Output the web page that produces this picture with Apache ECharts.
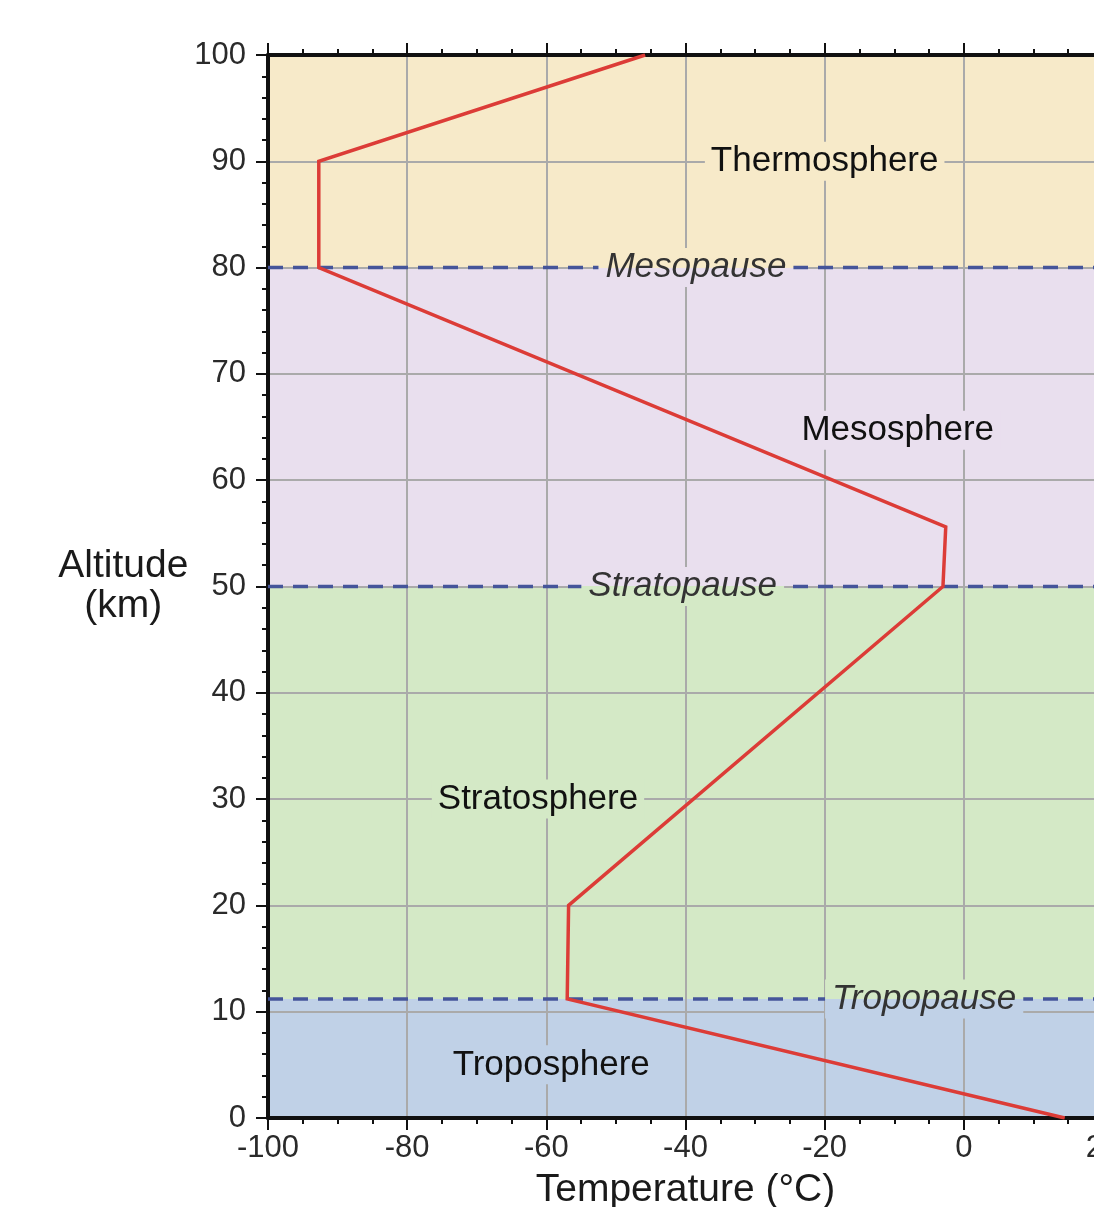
<!DOCTYPE html>
<html>
<head>
<meta charset="utf-8">
<script src="https://cdn.jsdelivr.net/npm/echarts@6/dist/echarts.min.js"></script>
<style>
html,body{margin:0;padding:0;background:#fff;overflow:hidden;}
#chart{width:1094px;height:1207px;}
</style>
</head>
<body>
<div id="chart"></div>
<script>
// ---- data ----
const tempC = [14.5, -57, -56.8, -3, -2.6, -92.7, -92.7, -45.8];
const altKm = [0, 11.2, 20, 50, 55.6, 80, 90, 100];

const layerNames = ['Troposphere', 'Stratosphere', 'Mesosphere', 'Thermosphere'];
const layerBottom = [0, 11.2, 50, 80];
const layerTop = [11.2, 50, 80, 100];
const layerLabelX = [-59.3, -61.2, -9.5, -20];
const layerLabelY = [5, 30, 64.7, 90];

const pauseNames = ['Tropopause', 'Stratopause', 'Mesopause'];
const pauseAlt = [11.2, 50, 80];
const pauseLabelX = [-5.7, -40.4, -38.5];

const xMin = -100, xMax = 20, xStep = 20;
const yMin = 0, yMax = 100, yStep = 10;

// ---- styles ----
const layerColors = ['#c0d1e7', '#d4e9c6', '#e9dfee', '#f7eac9'];
const FONT = 'Liberation Sans, Arial, Helvetica, sans-serif';

const chart = echarts.init(document.getElementById('chart'));

const bandData = layerBottom.map((b, i) => [b, layerTop[i]]);

const layerLabelData = layerNames.map((n, i) => ({
  name: n,
  value: [layerLabelX[i], layerLabelY[i]],
  label: { backgroundColor: layerColors[i] }
}));

const pauseLabelData = pauseNames.map((n, i) => ({
  name: n,
  value: [pauseLabelX[i], pauseAlt[i]],
  label: {
    backgroundColor: new echarts.graphic.LinearGradient(0, 0, 0, 1, [
      { offset: 0, color: layerColors[i + 1] },
      { offset: 0.5, color: layerColors[i + 1] },
      { offset: 0.5, color: layerColors[i] },
      { offset: 1, color: layerColors[i] }
    ])
  }
}));

const pauseSeries = pauseAlt.map((a, i) => ({
  type: 'line',
  name: pauseNames[i] + ' line',
  data: [[xMin, a], [xMax, a]],
  symbol: 'none',
  silent: true,
  z: 3,
  lineStyle: { color: '#45559a', width: 3.5, type: [15, 10] }
}));

const commonX = {
  type: 'value', min: xMin, max: xMax, interval: xStep,
  axisLine: { show: true, onZero: false, lineStyle: { color: '#111', width: 4 } },
  axisTick: { show: true, length: 12, lineStyle: { color: '#111', width: 2 } },
  minorTick: { show: true, splitNumber: 4, length: 6, lineStyle: { color: '#111', width: 2 } }
};

chart.setOption({
  animation: false,
  backgroundColor: '#ffffff',
  grid: { left: 268, top: 55, width: 835, height: 1063, containLabel: false, outerBoundsMode: 'none' },
  xAxis: [
    Object.assign({}, commonX, {
      position: 'bottom',
      name: 'Temperature (°C)',
      nameLocation: 'middle',
      nameGap: 53,
      nameTextStyle: { fontFamily: FONT, fontSize: 39, color: '#1a1a1a' },
      axisLabel: { fontFamily: FONT, fontSize: 31, color: '#2a2a2a', margin: 15 },
      splitLine: { show: true, lineStyle: { color: '#aaaaaa', width: 2 } }
    }),
    Object.assign({}, commonX, {
      position: 'top',
      axisLabel: { show: false },
      splitLine: { show: false }
    })
  ],
  yAxis: {
    type: 'value', min: yMin, max: yMax, interval: yStep,
    name: 'Altitude\n(km)',
    nameLocation: 'middle',
    nameRotate: 0,
    nameGap: 140,
    nameTextStyle: { fontFamily: FONT, fontSize: 39, color: '#1a1a1a', align: 'center', verticalAlign: 'middle', lineHeight: 40, padding: [0, 0, 12, 0] },
    axisLine: { show: true, onZero: false, lineStyle: { color: '#111', width: 4 } },
    axisTick: { show: true, length: 12, lineStyle: { color: '#111', width: 2 } },
    minorTick: { show: true, splitNumber: 5, length: 6, lineStyle: { color: '#111', width: 2 } },
    axisLabel: { fontFamily: FONT, fontSize: 31, color: '#2a2a2a', margin: 22 },
    splitLine: { show: true, lineStyle: { color: '#aaaaaa', width: 2 } }
  },
  series: [
    {
      type: 'custom',
      name: 'layers',
      z: -1,
      silent: true,
      data: bandData,
      renderItem: function (params, api) {
        const p0 = api.coord([xMin, api.value(1)]);
        const p1 = api.coord([xMax, api.value(0)]);
        return {
          type: 'rect',
          shape: { x: p0[0], y: p0[1], width: p1[0] - p0[0], height: p1[1] - p0[1] },
          style: { fill: layerColors[params.dataIndex] }
        };
      }
    },
    ...pauseSeries,
    {
      type: 'line',
      name: 'Temperature',
      data: tempC.map((t, i) => [t, altKm[i]]),
      symbol: 'none',
      z: 4,
      lineStyle: { color: '#dc3c37', width: 3.5, join: 'miter' }
    },
    {
      type: 'scatter',
      name: 'layer labels',
      symbolSize: 0,
      z: 6,
      silent: true,
      itemStyle: { opacity: 1 },
      data: layerLabelData,
      label: {
        show: true, position: 'inside',
        formatter: p => p.name,
        fontFamily: FONT, fontSize: 35, color: '#111111', opacity: 1,
        padding: [2, 6, 2, 6]
      }
    },
    {
      type: 'scatter',
      name: 'pause labels',
      symbolSize: 0,
      z: 6,
      silent: true,
      itemStyle: { opacity: 1 },
      data: pauseLabelData,
      label: {
        show: true, position: 'inside',
        formatter: p => p.name,
        fontFamily: FONT, fontSize: 35, fontStyle: 'italic', color: '#333333', opacity: 1,
        padding: [2, 7, 2, 7]
      }
    }
  ]
});
</script>
</body>
</html>
